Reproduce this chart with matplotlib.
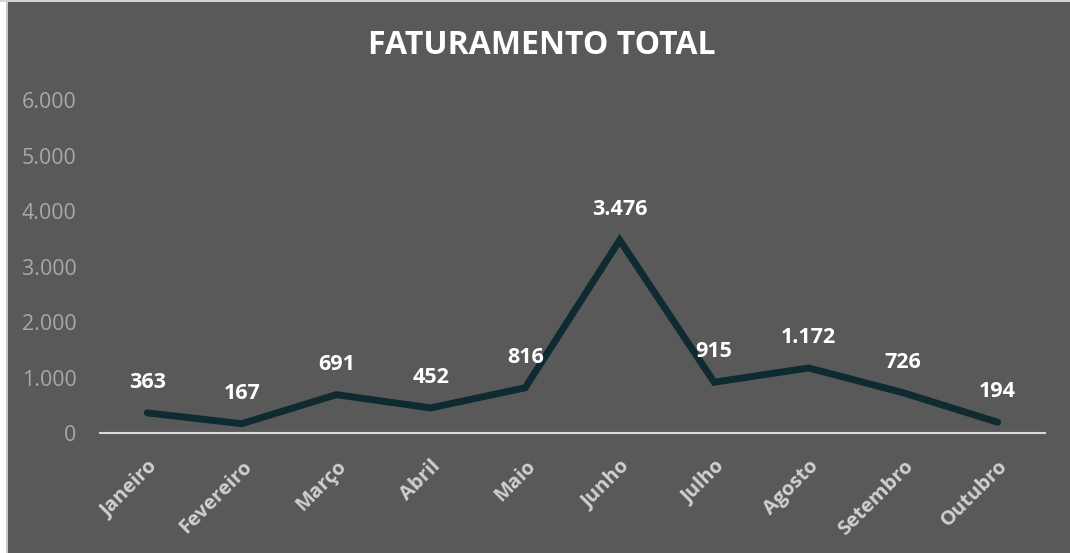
import matplotlib.pyplot as plt
from matplotlib.patches import Rectangle
from matplotlib.ticker import FuncFormatter
from matplotlib.transforms import ScaledTranslation

# Dados do gráfico
meses = ['Janeiro', 'Fevereiro', 'Março', 'Abril', 'Maio',
         'Junho', 'Julho', 'Agosto', 'Setembro', 'Outubro']
faturamento = [363, 167, 691, 452, 816, 3476, 915, 1172, 726, 194]
y_ticks = [0, 1000, 2000, 3000, 4000, 5000, 6000]

fundo = '#595959'
cor_linha = '#0f2a30'

plt.rcParams['font.family'] = ['Open Sans', 'DejaVu Sans']


def fmt_milhar(v, pos=None):
    return f'{int(v):,}'.replace(',', '.')


fig = plt.figure(figsize=(10.7, 5.53), dpi=100, facecolor=fundo)
ax = fig.add_axes([0.0935, 0.217, 0.883, 0.602])
ax.set_facecolor(fundo)

x = list(range(len(meses)))
ax.plot(x, faturamento, color=cor_linha, linewidth=5, solid_capstyle='round',
        solid_joinstyle='miter')

# Rótulos de dados
for xi, v in zip(x, faturamento):
    ax.annotate(fmt_milhar(v), (xi, v), xytext=(0, 22), textcoords='offset points',
                ha='center', va='center', color='white', fontsize=15.5, fontweight='bold')

ax.set_xlim(-0.5, len(meses) - 0.5)
ax.set_ylim(0, 6000)
ax.set_yticks(y_ticks)
ax.yaxis.set_major_formatter(FuncFormatter(fmt_milhar))
ax.set_xticks(x)
ax.set_xticklabels(meses, rotation=45, ha='right', va='top', rotation_mode='anchor',
                   color='#d0d0d0', fontsize=14.5, fontweight='bold')
desloc = ScaledTranslation(3 / 72, 0, fig.dpi_scale_trans)
for lbl in ax.get_xticklabels():
    lbl.set_transform(lbl.get_transform() + desloc)
ax.tick_params(axis='y', colors='#a8a8a8', labelsize=15.4, length=0, pad=17)
ax.tick_params(axis='x', length=0, pad=17)

for lado in ['top', 'right', 'left']:
    ax.spines[lado].set_visible(False)
ax.spines['bottom'].set_color('#d9d9d9')
ax.spines['bottom'].set_linewidth(1.5)

fig.text(0.506, 0.917, 'FATURAMENTO TOTAL', ha='center', va='center', color='white',
         fontsize=23, fontweight='bold')

# Moldura da imagem
fig.patches.append(Rectangle((0, 0), 6 / 1070, 1, transform=fig.transFigure,
                             facecolor='white', edgecolor='none'))
fig.patches.append(Rectangle((6 / 1070, 0), 2 / 1070, 1, transform=fig.transFigure,
                             facecolor='#c8c8c8', edgecolor='none'))
fig.patches.append(Rectangle((0, 1 - 2 / 553), 1, 2 / 553, transform=fig.transFigure,
                             facecolor='#d4d4d4', edgecolor='none'))

fig.savefig('out.png', dpi=100, facecolor=fundo)
